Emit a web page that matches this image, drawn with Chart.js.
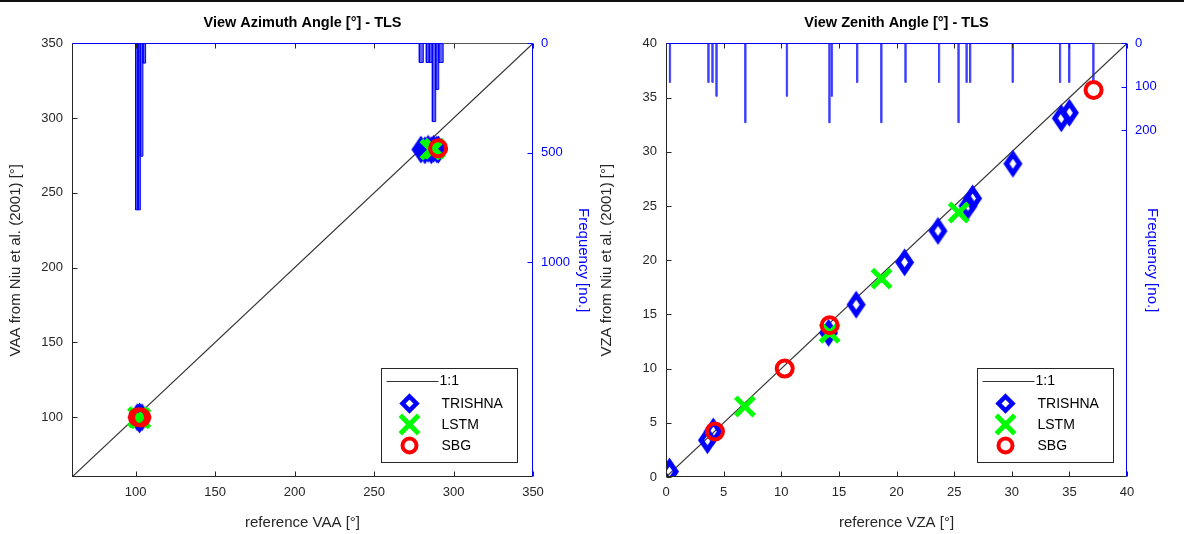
<!DOCTYPE html>
<html><head><meta charset="utf-8">
<script src="https://cdn.jsdelivr.net/npm/chart.js@4.4.0/dist/chart.umd.min.js"></script>
<style>
html,body{margin:0;padding:0;background:#fff;}
#wrap{position:relative;width:1184px;height:534px;overflow:hidden;background:#fff;}
#topline{position:absolute;left:0;top:0;width:1184px;height:2px;background:#111;}
canvas{position:absolute;top:0;}
#c1{left:0;} #c2{left:592px;}
</style></head><body>
<div id="wrap">
<canvas id="c1" width="592" height="534"></canvas>
<canvas id="c2" width="592" height="534"></canvas>
<div id="topline"></div>
</div>
<script>
// ---------------- DATA ----------------
// View Azimuth Angle (left panel)
const vaaTicks = [100, 150, 200, 250, 300, 350];
const vaaFreqTicks = [0, 500, 1000];
const vaaRange = [60, 350];
const vaaFreqMax = 1980;
const vaaTrishnaX = [101.0, 104.0, 102.5, 102.5, 279.5, 282.0, 284.0, 286.0, 287.5, 289.5, 290.5];
const vaaTrishnaY = [100.0, 100.0, 100.5, 98.5, 279.0, 278.5, 279.5, 278.5, 279.5, 279.0, 279.0];
const vaaLstmX = [101.5, 103.0, 285.5, 288.0];
const vaaLstmY = [100.0, 99.3, 279.0, 279.5];
const vaaSbgX = [101.5, 103.5, 290.3];
const vaaSbgY = [100.0, 99.8, 279.8];
const vaaBinStart = [100.0, 101.5, 103.0, 104.6, 278.5, 282.9, 284.8, 286.7, 288.8, 290.7];
const vaaBinEnd   = [101.5, 103.0, 104.6, 106.3, 281.0, 284.8, 286.7, 288.8, 290.7, 293.5];
const vaaBinCount = [760, 760, 515, 90, 87, 87, 87, 357, 210, 87];

// View Zenith Angle (right panel)
const vzaTicks = [0, 5, 10, 15, 20, 25, 30, 35, 40];
const vzaFreqTicks = [0, 100, 200];
const vzaRange = [0, 40];
const vzaFreqMax = 1000;
const vzaTrishnaX = [0.3, 3.6, 4.1, 14.1, 16.5, 20.7, 23.6, 26.2, 26.6, 30.1, 34.3, 35.0];
const vzaTrishnaY = [0.5, 3.4, 4.2, 13.3, 15.9, 19.8, 22.7, 25.0, 25.7, 28.9, 33.1, 33.6];
const vzaLstmX = [6.85, 14.2, 18.7, 25.4];
const vzaLstmY = [6.5, 13.3, 18.3, 24.4];
const vzaSbgX = [4.25, 10.3, 14.2, 37.1];
const vzaSbgY = [4.2, 10.0, 14.0, 35.7];
const vzaBinCenter = [0.35, 3.7, 4.05, 4.4, 6.9, 10.5, 14.2, 14.4, 16.6, 18.7, 20.8, 23.7, 25.4, 26.1, 26.4, 30.1, 34.2, 35.0, 37.1];
const vzaBinCount  = [90, 90, 90, 122, 183, 122, 183, 122, 90, 183, 90, 90, 183, 90, 90, 90, 90, 90, 90];
const vzaBinWidth = 0.1;

// ---------------- STYLE / HELPERS ----------------
Chart.defaults.font.family = '"Liberation Sans", Arial, Helvetica, sans-serif';
Chart.defaults.color = '#262626';
const AXIS = '#262626', BLUE = '#0000ff', GREEN = '#00ff00', RED = '#ff0000';

function pts(xs, ys) { return xs.map((x, i) => ({x: x, y: ys[i]})); }
function histPoly(starts, ends, counts) {
  const out = [];
  starts.forEach((s, i) => {
    out.push({x: s, y: 0}, {x: s, y: counts[i]}, {x: ends[i], y: counts[i]}, {x: ends[i], y: 0}, {x: ends[i], y: null});
  });
  return out;
}
function drawDiamond(g, cx, cy, hw, hh, lw, color) {
  g.save();
  g.strokeStyle = color; g.lineWidth = lw; g.lineJoin = 'miter';
  g.beginPath();
  g.moveTo(cx, cy - hh); g.lineTo(cx + hw, cy); g.lineTo(cx, cy + hh); g.lineTo(cx - hw, cy); g.closePath();
  g.stroke();
  g.restore();
}
function makeDiamond(hw, hh, lw, color) {
  const c = document.createElement('canvas');
  c.width = Math.ceil(2 * hw + 2 * lw + 4); c.height = Math.ceil(2 * hh + 2 * lw + 4);
  drawDiamond(c.getContext('2d'), c.width / 2, c.height / 2, hw, hh, lw, color);
  return c;
}
const diamondImg = makeDiamond(6.5, 9.5, 5, BLUE);

function frameTicks(s, arr) { s.ticks = arr.map(v => ({value: v})); }

const framePlugin = {
  id: 'frame',
  afterDraw(chart, args, opts) {
    const {ctx, chartArea: a, scales} = chart;
    const x = scales.x, y = scales.y, y2 = scales.y2;
    const L = Math.round(a.left) + 0.5, R = Math.round(a.right) - 0.5;
    const T = Math.round(a.top) + 0.5, B = Math.round(a.bottom) - 0.5;
    ctx.save();
    ctx.lineWidth = 1;
    ctx.strokeStyle = AXIS;
    ctx.beginPath();
    ctx.moveTo(L, T); ctx.lineTo(L, B); ctx.lineTo(R, B);
    x.ticks.forEach(t => {
      const px = Math.round(x.getPixelForValue(t.value)) + 0.5;
      ctx.moveTo(px, B); ctx.lineTo(px, B - 5);
      ctx.moveTo(px, T); ctx.lineTo(px, T + 5);
    });
    y.ticks.forEach(t => {
      const py = Math.round(y.getPixelForValue(t.value)) + 0.5;
      ctx.moveTo(L, py); ctx.lineTo(L + 5, py);
    });
    ctx.stroke();
    const bEnd = Math.round(x.getPixelForValue(opts.blueEnd));
    ctx.strokeStyle = '#555';
    ctx.beginPath(); ctx.moveTo(bEnd, T); ctx.lineTo(R, T); ctx.stroke();
    ctx.strokeStyle = BLUE;
    ctx.beginPath(); ctx.moveTo(L, T); ctx.lineTo(bEnd, T);
    ctx.moveTo(R, T); ctx.lineTo(R, B);
    y2.ticks.forEach(t => {
      const py = Math.round(y2.getPixelForValue(t.value)) + 0.5;
      ctx.moveTo(R, py); ctx.lineTo(R - 5, py);
    });
    ctx.stroke();

    // legend
    const w = 136, h = 94;
    const bx = Math.round(a.right - opts.legendRight - w) + 0.5;
    const by = Math.round(a.bottom - 15 - h) + 0.5;
    ctx.fillStyle = '#fff'; ctx.fillRect(bx, by, w, h);
    ctx.strokeStyle = AXIS; ctx.lineWidth = 1; ctx.strokeRect(bx, by, w, h);
    const ds = chart.data.datasets;
    const rows = [13, 35, 56, 77];
    const mx = bx + 28, tx = bx + 60;
    ctx.font = '14px "Liberation Sans", Arial, sans-serif';
    ctx.textBaseline = 'middle'; ctx.textAlign = 'left';
    const one = ds.find(d => d.label === '1:1');
    ctx.strokeStyle = one.borderColor; ctx.lineWidth = 1;
    ctx.beginPath(); ctx.moveTo(bx + 5, by + rows[0]); ctx.lineTo(bx + 57, by + rows[0]); ctx.stroke();
    ctx.fillStyle = '#000';
    ctx.fillText('1:1', tx - 2, by + rows[0]);
    const tri = ds.find(d => d.label === 'TRISHNA');
    drawDiamond(ctx, mx, by + rows[1], 7, 7, 4.5, tri.borderColor);
    ctx.fillStyle = '#000';
    ctx.fillText(tri.label, tx, by + rows[1] + 1);
    const ls = ds.find(d => d.label === 'LSTM');
    ctx.save();
    ctx.strokeStyle = ls.borderColor; ctx.fillStyle = ls.borderColor; ctx.lineWidth = 5;
    Chart.helpers.drawPoint(ctx, {pointStyle: 'crossRot', radius: 13, borderWidth: 5, rotation: 0}, mx, by + rows[2]);
    ctx.restore();
    ctx.fillStyle = '#000';
    ctx.fillText(ls.label, tx, by + rows[2] + 1);
    const sb = ds.find(d => d.label === 'SBG');
    ctx.strokeStyle = sb.borderColor; ctx.lineWidth = 4;
    ctx.beginPath(); ctx.arc(mx, by + rows[3], 7, 0, Math.PI * 2); ctx.stroke();
    ctx.fillStyle = '#000';
    ctx.fillText(sb.label, tx, by + rows[3] + 1);
    ctx.restore();
  }
};

function buildChart(id, cfg) {
  const tickFont = {size: 13};
  const plain = v => String(v);
  return new Chart(document.getElementById(id), {
    type: 'scatter',
    plugins: [framePlugin],
    data: {
      datasets: [
        {label: 'SBG', data: pts(cfg.sbgX, cfg.sbgY), pointStyle: 'circle', pointRadius: 8, pointBorderWidth: 4,
         borderColor: RED, backgroundColor: 'rgba(0,0,0,0)', pointBackgroundColor: 'rgba(0,0,0,0)', pointBorderColor: RED, xAxisID: 'x', yAxisID: 'y'},
        {label: 'LSTM', data: pts(cfg.lstmX, cfg.lstmY), pointStyle: 'crossRot', pointRadius: 13, pointBorderWidth: 5,
         borderColor: GREEN, pointBorderColor: GREEN, backgroundColor: GREEN, xAxisID: 'x', yAxisID: 'y'},
        {label: 'TRISHNA', data: pts(cfg.triX, cfg.triY), pointStyle: diamondImg, pointRadius: 10,
         borderColor: BLUE, backgroundColor: BLUE, xAxisID: 'x', yAxisID: 'y'},
        {label: '1:1', type: 'line', data: pts(cfg.range, cfg.range), borderColor: '#333333', borderWidth: 1.2,
         pointRadius: 0, fill: false, xAxisID: 'x', yAxisID: 'y'},
        {label: 'hist', type: 'line', data: cfg.hist, borderColor: cfg.histBorder, borderWidth: 1,
         backgroundColor: cfg.histFill, fill: 'origin', pointRadius: 0, spanGaps: false, tension: 0, xAxisID: 'x', yAxisID: 'y2'}
      ]
    },
    options: {
      responsive: false, animation: false, devicePixelRatio: 1,
      layout: {padding: 0},
      plugins: {
        legend: {display: false}, tooltip: {enabled: false},
        title: {display: true, text: cfg.title, fullSize: false, color: '#000',
                font: {size: 14.5, weight: 'bold'}, padding: {top: 14, bottom: 12}},
        frame: {blueEnd: cfg.blueEnd, legendRight: cfg.legendRight}
      },
      scales: {
        x: {type: 'linear', position: 'bottom', min: cfg.range[0], max: cfg.range[1],
            grid: {display: false, drawTicks: false}, border: {display: false},
            ticks: {font: tickFont, color: AXIS, padding: 8, maxRotation: 0, callback: plain},
            title: {display: true, text: cfg.xTitle, font: {size: 15}, color: AXIS, padding: {top: 0, bottom: 2}},
            afterBuildTicks: s => frameTicks(s, cfg.ticks), afterFit: s => { s.height = 57; }},
        y: {type: 'linear', position: 'left', min: cfg.range[0], max: cfg.range[1],
            grid: {display: false, drawTicks: false}, border: {display: false},
            ticks: {font: tickFont, color: AXIS, padding: 9, callback: plain},
            title: {display: true, text: cfg.yTitle, font: {size: 15}, color: AXIS, padding: {top: cfg.yTitlePad, bottom: 0}},
            afterBuildTicks: s => frameTicks(s, cfg.ticks), afterFit: s => { s.width = cfg.leftW; }},
        y2: {type: 'linear', position: 'right', min: 0, max: cfg.freqMax, reverse: true,
            grid: {display: false, drawTicks: false}, border: {display: false},
            ticks: {font: tickFont, color: BLUE, padding: 8, callback: plain},
            title: {display: true, text: 'Frequency [no.]', font: {size: 15}, color: BLUE, padding: {top: cfg.y2TitlePad, bottom: 0}},
            afterBuildTicks: s => frameTicks(s, cfg.freqTicks), afterFit: s => { s.width = cfg.rightW; }}
      }
    }
  });
}

const vzaBinStart = vzaBinCenter.map(c => c - vzaBinWidth / 2);
const vzaBinEnd = vzaBinCenter.map(c => c + vzaBinWidth / 2);

buildChart('c1', {
  title: 'View Azimuth Angle [°] - TLS', xTitle: 'reference VAA [°]', yTitle: 'VAA from Niu et al. (2001) [°]',
  range: vaaRange, ticks: vaaTicks, freqTicks: vaaFreqTicks, freqMax: vaaFreqMax,
  triX: vaaTrishnaX, triY: vaaTrishnaY, lstmX: vaaLstmX, lstmY: vaaLstmY, sbgX: vaaSbgX, sbgY: vaaSbgY,
  hist: histPoly(vaaBinStart, vaaBinEnd, vaaBinCount), histBorder: '#0000ff', histFill: 'rgba(40,40,255,0.75)',
  blueEnd: 293.5, legendRight: 16, leftW: 72, rightW: 59, yTitlePad: 7, y2TitlePad: 0
});
buildChart('c2', {
  title: 'View Zenith Angle [°] - TLS', xTitle: 'reference VZA [°]', yTitle: 'VZA from Niu et al. (2001) [°]',
  range: vzaRange, ticks: vzaTicks, freqTicks: vzaFreqTicks, freqMax: vzaFreqMax,
  triX: vzaTrishnaX, triY: vzaTrishnaY, lstmX: vzaLstmX, lstmY: vzaLstmY, sbgX: vzaSbgX, sbgY: vzaSbgY,
  hist: histPoly(vzaBinStart, vzaBinEnd, vzaBinCount), histBorder: 'rgba(60,60,255,0.9)', histFill: 'rgba(60,60,255,0.9)',
  blueEnd: 37.1, legendRight: 14, leftW: 74, rightW: 57, yTitlePad: 6, y2TitlePad: 23
});
</script>
</body></html>
